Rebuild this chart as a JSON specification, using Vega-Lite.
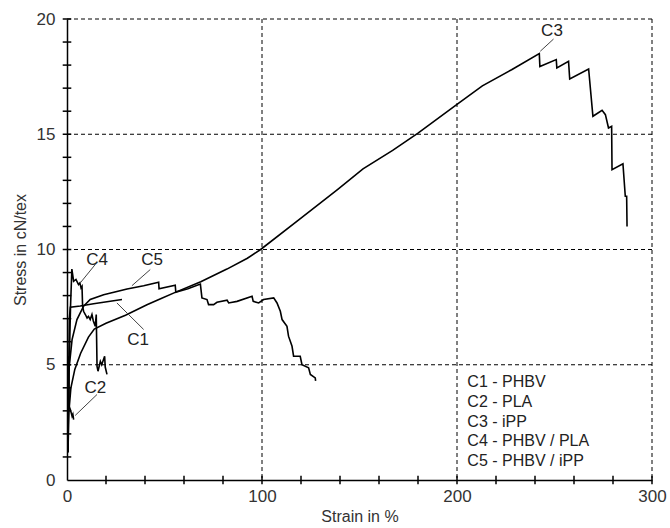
{
  "$schema": "https://vega.github.io/schema/vega-lite/v6.json",
  "width": 585,
  "height": 461,
  "autosize": "none",
  "padding": {"left": 67, "top": 19, "right": 18, "bottom": 48},
  "background": "white",
  "config": {
    "view": {"stroke": null},
    "font": "'Liberation Sans Narrow', 'Liberation Sans', Arial, sans-serif"
  },
  "datasets": {
    "curves": [
      {"s": "C1", "x": 0.4, "y": 1.2}, {"s": "C1", "x": 0.8, "y": 4.0}, {"s": "C1", "x": 1.2, "y": 7.0}, {"s": "C1", "x": 1.7, "y": 7.5}, {"s": "C1", "x": 6.8, "y": 7.55}, {"s": "C1", "x": 13.6, "y": 7.65}, {"s": "C1", "x": 28.2, "y": 7.83},

      {"s": "C2", "x": 0.3, "y": 1.2}, {"s": "C2", "x": 0.6, "y": 4.0}, {"s": "C2", "x": 0.8, "y": 5.37}, {"s": "C2", "x": 1.1, "y": 3.2}, {"s": "C2", "x": 1.7, "y": 3.06}, {"s": "C2", "x": 2.2, "y": 2.9}, {"s": "C2", "x": 2.6, "y": 2.77}, {"s": "C2", "x": 3.0, "y": 2.85}, {"s": "C2", "x": 3.4, "y": 2.62},

      {"s": "C3", "x": 0.5, "y": 1.2}, {"s": "C3", "x": 1.0, "y": 3.0}, {"s": "C3", "x": 2.0, "y": 4.0}, {"s": "C3", "x": 4.0, "y": 4.8}, {"s": "C3", "x": 7.0, "y": 5.5}, {"s": "C3", "x": 11.0, "y": 6.2}, {"s": "C3", "x": 14.0, "y": 6.55}, {"s": "C3", "x": 20.0, "y": 6.8}, {"s": "C3", "x": 30.0, "y": 7.15}, {"s": "C3", "x": 41.0, "y": 7.6}, {"s": "C3", "x": 48.0, "y": 7.86}, {"s": "C3", "x": 55.5, "y": 8.14}, {"s": "C3", "x": 68.6, "y": 8.6}, {"s": "C3", "x": 82.0, "y": 9.15}, {"s": "C3", "x": 92.5, "y": 9.62}, {"s": "C3", "x": 99.3, "y": 10.0}, {"s": "C3", "x": 119.0, "y": 11.3}, {"s": "C3", "x": 138.7, "y": 12.6}, {"s": "C3", "x": 151.8, "y": 13.5}, {"s": "C3", "x": 167.0, "y": 14.3}, {"s": "C3", "x": 180.0, "y": 15.05}, {"s": "C3", "x": 200.0, "y": 16.3}, {"s": "C3", "x": 213.0, "y": 17.1}, {"s": "C3", "x": 228.0, "y": 17.8}, {"s": "C3", "x": 242.2, "y": 18.5}, {"s": "C3", "x": 242.5, "y": 17.94}, {"s": "C3", "x": 250.9, "y": 18.24}, {"s": "C3", "x": 251.2, "y": 17.88}, {"s": "C3", "x": 257.2, "y": 18.16}, {"s": "C3", "x": 257.8, "y": 17.4}, {"s": "C3", "x": 267.5, "y": 17.83}, {"s": "C3", "x": 269.7, "y": 15.78}, {"s": "C3", "x": 274.4, "y": 16.04}, {"s": "C3", "x": 276.1, "y": 15.85}, {"s": "C3", "x": 277.7, "y": 15.27}, {"s": "C3", "x": 279.3, "y": 15.34}, {"s": "C3", "x": 279.5, "y": 13.46}, {"s": "C3", "x": 285.1, "y": 13.72}, {"s": "C3", "x": 286.3, "y": 12.31}, {"s": "C3", "x": 287.0, "y": 12.31}, {"s": "C3", "x": 287.2, "y": 11.0},

      {"s": "C4", "x": 0.4, "y": 1.2}, {"s": "C4", "x": 1.0, "y": 4.5}, {"s": "C4", "x": 1.8, "y": 7.5}, {"s": "C4", "x": 2.5, "y": 9.15}, {"s": "C4", "x": 3.4, "y": 8.62}, {"s": "C4", "x": 4.6, "y": 8.7}, {"s": "C4", "x": 5.9, "y": 8.48}, {"s": "C4", "x": 6.6, "y": 8.55}, {"s": "C4", "x": 7.2, "y": 8.33}, {"s": "C4", "x": 7.7, "y": 8.4}, {"s": "C4", "x": 8.0, "y": 7.54}, {"s": "C4", "x": 8.5, "y": 7.32}, {"s": "C4", "x": 9.4, "y": 7.18}, {"s": "C4", "x": 10.3, "y": 7.03}, {"s": "C4", "x": 11.0, "y": 7.1}, {"s": "C4", "x": 11.9, "y": 6.96}, {"s": "C4", "x": 12.8, "y": 7.18}, {"s": "C4", "x": 13.5, "y": 6.9}, {"s": "C4", "x": 14.5, "y": 6.67}, {"s": "C4", "x": 15.0, "y": 7.18}, {"s": "C4", "x": 15.4, "y": 4.93}, {"s": "C4", "x": 15.9, "y": 4.72}, {"s": "C4", "x": 17.1, "y": 5.15}, {"s": "C4", "x": 17.8, "y": 5.0}, {"s": "C4", "x": 19.3, "y": 5.37}, {"s": "C4", "x": 19.6, "y": 4.9}, {"s": "C4", "x": 20.5, "y": 4.58},

      {"s": "C5", "x": 0.4, "y": 1.2}, {"s": "C5", "x": 0.8, "y": 4.65}, {"s": "C5", "x": 2.6, "y": 6.09}, {"s": "C5", "x": 5.1, "y": 6.96}, {"s": "C5", "x": 8.5, "y": 7.54}, {"s": "C5", "x": 11.9, "y": 7.83}, {"s": "C5", "x": 18.8, "y": 8.04}, {"s": "C5", "x": 30.8, "y": 8.29}, {"s": "C5", "x": 39.3, "y": 8.43}, {"s": "C5", "x": 47.0, "y": 8.58}, {"s": "C5", "x": 47.2, "y": 8.3}, {"s": "C5", "x": 55.5, "y": 8.45}, {"s": "C5", "x": 55.8, "y": 8.15}, {"s": "C5", "x": 62.0, "y": 8.3}, {"s": "C5", "x": 68.4, "y": 8.5}, {"s": "C5", "x": 69.2, "y": 7.9}, {"s": "C5", "x": 71.8, "y": 7.83}, {"s": "C5", "x": 72.6, "y": 7.61}, {"s": "C5", "x": 75.2, "y": 7.61}, {"s": "C5", "x": 76.9, "y": 7.71}, {"s": "C5", "x": 82.1, "y": 7.8}, {"s": "C5", "x": 82.9, "y": 7.68}, {"s": "C5", "x": 87.2, "y": 7.75}, {"s": "C5", "x": 94.9, "y": 7.97}, {"s": "C5", "x": 95.5, "y": 7.75}, {"s": "C5", "x": 98.3, "y": 7.68}, {"s": "C5", "x": 100.8, "y": 7.83}, {"s": "C5", "x": 106.0, "y": 7.9}, {"s": "C5", "x": 107.7, "y": 7.68}, {"s": "C5", "x": 109.4, "y": 7.32}, {"s": "C5", "x": 110.3, "y": 6.96}, {"s": "C5", "x": 112.8, "y": 6.67}, {"s": "C5", "x": 113.6, "y": 6.24}, {"s": "C5", "x": 115.4, "y": 5.8}, {"s": "C5", "x": 116.2, "y": 5.37}, {"s": "C5", "x": 119.6, "y": 5.37}, {"s": "C5", "x": 120.5, "y": 5.0}, {"s": "C5", "x": 123.9, "y": 4.87}, {"s": "C5", "x": 124.8, "y": 4.58}, {"s": "C5", "x": 127.3, "y": 4.43}, {"s": "C5", "x": 127.5, "y": 4.3}
    ],
    "gridx": [{"v": 100}, {"v": 200}, {"v": 300}],
    "gridy": [{"v": 5}, {"v": 10}, {"v": 15}, {"v": 20}],
    "ticksx": [{"v": 20}, {"v": 40}, {"v": 60}, {"v": 80}, {"v": 100}, {"v": 120}, {"v": 140}, {"v": 160}, {"v": 180}, {"v": 200}, {"v": 220}, {"v": 240}, {"v": 260}, {"v": 280}, {"v": 300}],
    "ticksy": [{"v": 1}, {"v": 2}, {"v": 3}, {"v": 4}, {"v": 5}, {"v": 6}, {"v": 7}, {"v": 8}, {"v": 9}, {"v": 10}, {"v": 11}, {"v": 12}, {"v": 13}, {"v": 14}, {"v": 15}, {"v": 16}, {"v": 17}, {"v": 18}, {"v": 19}, {"v": 20}],
    "pointers": [
      {"s": "C1", "x": 39.3, "y": 6.53, "x2": 25.6, "y2": 7.68},
      {"s": "C2", "x": 15.4, "y": 3.71, "x2": 4.2, "y2": 2.8},
      {"s": "C3", "x": 249.5, "y": 19.13, "x2": 242.7, "y2": 18.6},
      {"s": "C4", "x": 14.5, "y": 9.35, "x2": 6.8, "y2": 8.55},
      {"s": "C5", "x": 42.7, "y": 9.13, "x2": 33.3, "y2": 8.43}
    ],
    "labels": [
      {"s": "C1", "x": 36.5, "y": 6.08},
      {"s": "C2", "x": 14.5, "y": 4.0},
      {"s": "C3", "x": 248.7, "y": 19.46},
      {"s": "C4", "x": 15.4, "y": 9.56},
      {"s": "C5", "x": 43.6, "y": 9.56}
    ],
    "legend": [
      {"t": "C1 - PHBV", "x": 205.3, "y": 4.23},
      {"t": "C2 - PLA", "x": 205.3, "y": 3.38},
      {"t": "C3 - iPP", "x": 205.3, "y": 2.53},
      {"t": "C4 - PHBV / PLA", "x": 205.3, "y": 1.68},
      {"t": "C5 - PHBV / iPP", "x": 205.3, "y": 0.83}
    ]
  },
  "layer": [
    {
      "data": {"name": "curves"},
      "mark": {"type": "line", "color": "black", "strokeWidth": 1.6, "clip": true},
      "encoding": {
        "x": {
          "field": "x", "type": "quantitative",
          "scale": {"domain": [0, 300], "nice": false},
          "axis": {
            "title": "Strain in %",
            "values": [0, 100, 200, 300],
            "format": "d",
            "labelOverlap": false,
            "grid": false,
            "domainColor": "black",
            "domainWidth": 1.5,
            "ticks": false,
            "labelFontSize": 17,
            "labelColor": "#333",
            "labelPadding": 8,
            "labelFlush": false,
            "titleFontSize": 16,
            "titleFontWeight": "normal",
            "titleColor": "#333",
            "titlePadding": 4
          }
        },
        "y": {
          "field": "y", "type": "quantitative",
          "scale": {"domain": [0, 20], "nice": false},
          "axis": {
            "title": "Stress in cN/tex",
            "values": [0, 5, 10, 15, 20],
            "format": "d",
            "labelOverlap": false,
            "grid": false,
            "domainColor": "black",
            "domainWidth": 1.5,
            "ticks": false,
            "labelFontSize": 17,
            "labelColor": "#333",
            "labelPadding": 12,
            "labelFlush": false,
            "titleFontSize": 16,
            "titleFontWeight": "normal",
            "titleColor": "#333",
            "titlePadding": 8
          }
        },
        "detail": {"field": "s"},
        "order": {"value": null}
      }
    },
    {
      "data": {"name": "gridx"},
      "mark": {"type": "rule", "color": "black", "strokeWidth": 1, "strokeDash": [4, 3]},
      "encoding": {
        "x": {"field": "v", "type": "quantitative"}
      }
    },
    {
      "data": {"name": "gridy"},
      "mark": {"type": "rule", "color": "black", "strokeWidth": 1, "strokeDash": [4, 3]},
      "encoding": {
        "y": {"field": "v", "type": "quantitative"}
      }
    },
    {
      "data": {"name": "ticksx"},
      "mark": {"type": "rule", "color": "black", "strokeWidth": 1.5, "clip": false},
      "encoding": {
        "x": {"field": "v", "type": "quantitative"},
        "y": {"datum": -0.18, "type": "quantitative"},
        "y2": {"datum": 0.18}
      }
    },
    {
      "data": {"name": "ticksy"},
      "mark": {"type": "rule", "color": "black", "strokeWidth": 1.5, "clip": false},
      "encoding": {
        "y": {"field": "v", "type": "quantitative"},
        "x": {"datum": -2.2, "type": "quantitative"},
        "x2": {"datum": 2.2}
      }
    },
    {
      "data": {"name": "pointers"},
      "mark": {"type": "rule", "color": "#444", "strokeWidth": 1},
      "encoding": {
        "x": {"field": "x", "type": "quantitative"},
        "y": {"field": "y", "type": "quantitative"},
        "x2": {"field": "x2"},
        "y2": {"field": "y2"}
      }
    },
    {
      "data": {"name": "labels"},
      "mark": {"type": "text", "fontSize": 17, "color": "#222", "align": "center", "baseline": "middle"},
      "encoding": {
        "x": {"field": "x", "type": "quantitative"},
        "y": {"field": "y", "type": "quantitative"},
        "text": {"field": "s"}
      }
    },
    {
      "data": {"name": "legend"},
      "mark": {"type": "text", "fontSize": 16, "color": "#222", "align": "left", "baseline": "middle"},
      "encoding": {
        "x": {"field": "x", "type": "quantitative"},
        "y": {"field": "y", "type": "quantitative"},
        "text": {"field": "t"}
      }
    }
  ]
}
